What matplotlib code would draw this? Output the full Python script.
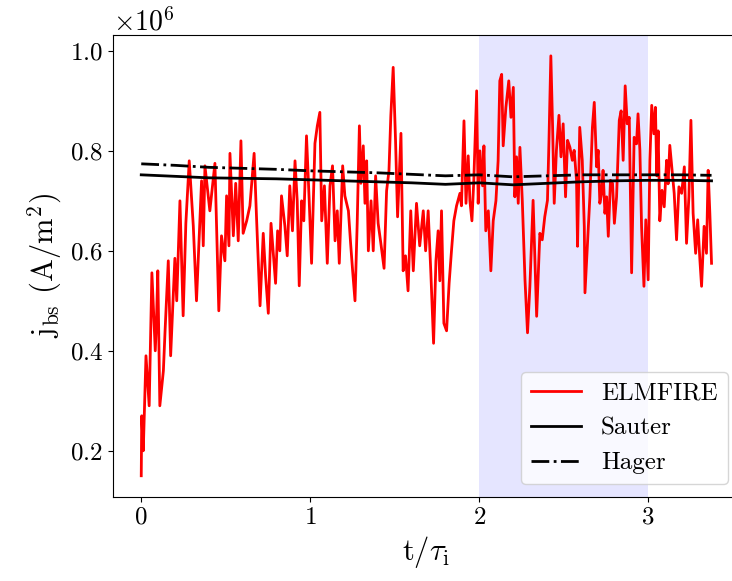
import matplotlib
matplotlib.use("Agg")
import matplotlib.pyplot as plt

# Schriften wie im LaTeX-Original
plt.rcParams['font.family'] = 'serif'
plt.rcParams['font.serif'] = ['cmr10']
plt.rcParams['mathtext.fontset'] = 'cm'
plt.rcParams['axes.formatter.use_mathtext'] = True
plt.rcParams['font.size'] = 18

# ELMFIRE (t/tau_i, j_bs in 1e6 A/m^2)
t_elm = [0.0, 0.003, 0.012, 0.028, 0.047, 0.063, 0.083, 0.091, 0.098, 0.110,
         0.131, 0.141, 0.160, 0.174, 0.199, 0.210, 0.229, 0.248, 0.264, 0.284,
         0.308, 0.327, 0.357, 0.367, 0.377, 0.406, 0.436, 0.459, 0.475, 0.495,
         0.505, 0.519, 0.525, 0.545, 0.559, 0.574, 0.590, 0.603, 0.624, 0.643,
         0.668, 0.683, 0.703, 0.722, 0.736, 0.752, 0.768, 0.795, 0.807, 0.820,
         0.830, 0.850, 0.864, 0.879, 0.895, 0.910, 0.923, 0.935, 0.949, 0.962,
         0.978, 0.994, 1.008, 1.028, 1.042, 1.057, 1.068, 1.084, 1.101, 1.117,
         1.132, 1.147, 1.160, 1.172, 1.192, 1.205, 1.226, 1.239, 1.251, 1.265,
         1.278, 1.291, 1.300, 1.314, 1.324, 1.334, 1.344, 1.360, 1.373, 1.387,
         1.402, 1.418, 1.437, 1.452, 1.466, 1.477, 1.491, 1.505, 1.517, 1.537,
         1.550, 1.564, 1.579, 1.595, 1.610, 1.629, 1.648, 1.669, 1.683, 1.698,
         1.714, 1.730, 1.744, 1.757, 1.767, 1.777, 1.791, 1.807, 1.822, 1.836,
         1.850, 1.866, 1.886, 1.895, 1.910, 1.922, 1.935, 1.945, 1.957, 1.968,
         1.985, 1.994, 2.004, 2.020, 2.028, 2.039, 2.054, 2.069, 2.083, 2.099,
         2.112, 2.122, 2.133, 2.142, 2.158, 2.175, 2.188, 2.202, 2.211, 2.221,
         2.231, 2.241, 2.255, 2.271, 2.286, 2.300, 2.319, 2.340, 2.359, 2.373,
         2.388, 2.404, 2.413, 2.424, 2.434, 2.444, 2.457, 2.472, 2.484, 2.497,
         2.511, 2.523, 2.537, 2.551, 2.562, 2.576, 2.582, 2.595, 2.610, 2.622,
         2.626, 2.639, 2.655, 2.670, 2.681, 2.695, 2.704, 2.714, 2.724, 2.733,
         2.744, 2.754, 2.764, 2.777, 2.789, 2.800, 2.813, 2.829, 2.840, 2.852,
         2.864, 2.876, 2.888, 2.902, 2.917, 2.931, 2.940, 2.951, 2.961, 2.975,
         2.986, 3.000, 3.010, 3.021, 3.034, 3.043, 3.051, 3.059, 3.069, 3.082,
         3.095, 3.109, 3.118, 3.128, 3.138, 3.154, 3.168, 3.182, 3.198, 3.214,
         3.227, 3.241, 3.253, 3.266, 3.281, 3.293, 3.306, 3.316, 3.331, 3.345,
         3.355, 3.365, 3.375]
j_elm = [0.15, 0.27, 0.20, 0.39, 0.29, 0.556, 0.40, 0.47, 0.56, 0.29,
         0.36, 0.44, 0.58, 0.39, 0.585, 0.50, 0.70, 0.47, 0.655, 0.78,
         0.65, 0.50, 0.74, 0.61, 0.77, 0.68, 0.775, 0.48, 0.63, 0.58,
         0.71, 0.61, 0.795, 0.63, 0.735, 0.62, 0.82, 0.635, 0.66, 0.69,
         0.795, 0.66, 0.49, 0.635, 0.55, 0.475, 0.655, 0.535, 0.64, 0.60,
         0.71, 0.65, 0.59, 0.73, 0.64, 0.78, 0.70, 0.53, 0.70, 0.66,
         0.83, 0.70, 0.575, 0.815, 0.85, 0.877, 0.66, 0.73, 0.575, 0.73,
         0.77, 0.62, 0.68, 0.575, 0.77, 0.71, 0.68, 0.615, 0.56, 0.50,
         0.655, 0.85, 0.735, 0.81, 0.695, 0.78, 0.60, 0.70, 0.60, 0.75,
         0.655, 0.615, 0.565, 0.72, 0.76, 0.87, 0.967, 0.82, 0.668, 0.835,
         0.56, 0.59, 0.52, 0.68, 0.56, 0.695, 0.61, 0.68, 0.60, 0.68,
         0.555, 0.415, 0.58, 0.64, 0.54, 0.68, 0.455, 0.44, 0.535, 0.60,
         0.66, 0.69, 0.715, 0.69, 0.86, 0.695, 0.79, 0.70, 0.66, 0.74,
         0.92, 0.695, 0.80, 0.73, 0.81, 0.64, 0.68, 0.56, 0.66, 0.70,
         0.78, 0.94, 0.953, 0.81, 0.887, 0.94, 0.867, 0.927, 0.708, 0.788,
         0.695, 0.807, 0.701, 0.542, 0.436, 0.529, 0.701, 0.469, 0.635, 0.622,
         0.668, 0.701, 0.821, 0.99, 0.854, 0.695, 0.801, 0.871, 0.788, 0.854,
         0.708, 0.821, 0.807, 0.781, 0.801, 0.741, 0.609, 0.847, 0.781, 0.648,
         0.516, 0.602, 0.708, 0.847, 0.897, 0.768, 0.801, 0.695, 0.715, 0.761,
         0.675, 0.708, 0.629, 0.741, 0.735, 0.655, 0.708, 0.861, 0.88, 0.781,
         0.93, 0.854, 0.867, 0.556, 0.827, 0.814, 0.874, 0.801, 0.648, 0.529,
         0.662, 0.542, 0.781, 0.891, 0.834, 0.887, 0.75, 0.84, 0.66, 0.721,
         0.688, 0.781, 0.734, 0.811, 0.774, 0.715, 0.622, 0.728, 0.715, 0.768,
         0.615, 0.708, 0.861, 0.675, 0.595, 0.662, 0.582, 0.529, 0.649, 0.595,
         0.761, 0.675, 0.575]

# Sauter und Hager
t_model = [0.0, 0.2, 0.4, 0.6, 0.8, 1.0, 1.2, 1.4, 1.6, 1.8,
           2.0, 2.2, 2.4, 2.6, 2.8, 3.0, 3.2, 3.375]
j_sauter = [0.752, 0.749, 0.746, 0.745, 0.744, 0.742, 0.740, 0.738, 0.736, 0.733,
            0.736, 0.732, 0.735, 0.738, 0.740, 0.741, 0.741, 0.740]
j_hager = [0.774, 0.771, 0.767, 0.765, 0.763, 0.760, 0.758, 0.756, 0.753, 0.750,
           0.752, 0.748, 0.750, 0.752, 0.752, 0.752, 0.752, 0.751]

fig = plt.figure(figsize=(7.32, 5.81), dpi=100)
# rechte Achsenkante liegt ausserhalb des Bildes (wie im Original abgeschnitten)
ax = fig.add_axes([0.154, 0.145, 0.857, 0.795])

ax.axvspan(2, 3, color='b', alpha=0.1, lw=0)
ax.plot(t_elm, [v * 1e6 for v in j_elm], color='r', lw=2, label='ELMFIRE')
ax.plot(t_model, [v * 1e6 for v in j_sauter], color='k', lw=2, label='Sauter')
ax.plot(t_model, [v * 1e6 for v in j_hager], color='k', lw=2, ls='-.', label='Hager')

ax.set_xticks([0, 1, 2, 3])
ax.set_yticks([0.2e6, 0.4e6, 0.6e6, 0.8e6, 1.0e6])
ax.tick_params(labelsize=18)
ax.yaxis.get_offset_text().set_fontsize(20)

ax.set_xlabel(r'$\mathrm{t}/\tau_\mathrm{i}$', fontsize=22)
ax.set_ylabel(r'$\mathrm{j_{bs}}$ (A/m$^2$)', fontsize=22)

ax.legend(loc='lower right', fontsize=18)

fig.savefig('out.png', dpi=100)
